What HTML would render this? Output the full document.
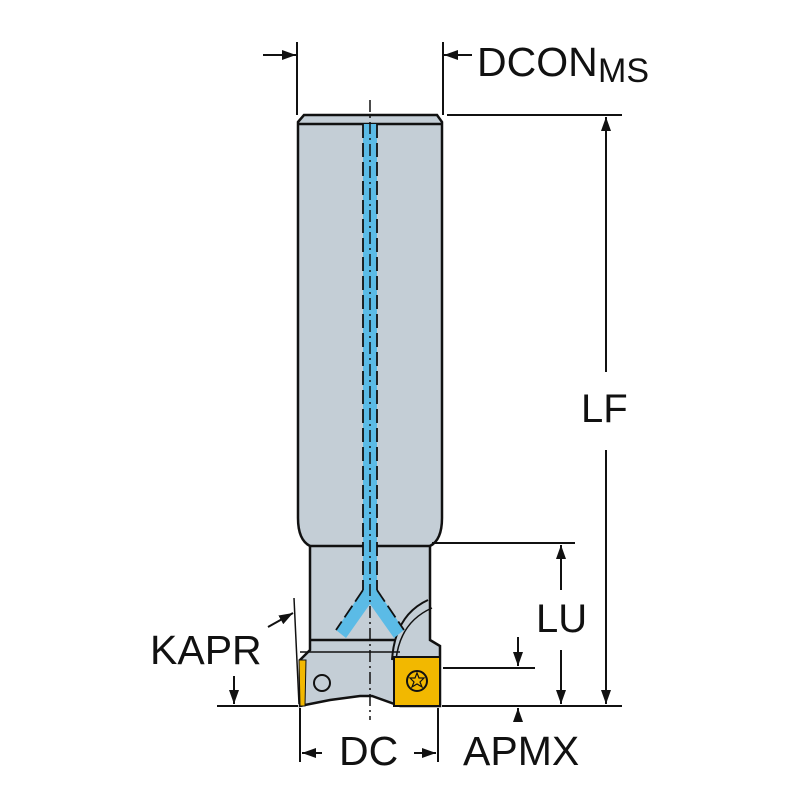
<!DOCTYPE html>
<html><head><style>body{margin:0;background:#fff}svg{display:block}text{font-family:"Liberation Sans",sans-serif;fill:#111}</style></head><body>
<svg width="800" height="800" viewBox="0 0 800 800" xmlns="http://www.w3.org/2000/svg">
<defs>
<marker id="b" viewBox="0 0 14 10" markerWidth="14" markerHeight="10" refX="14" refY="5" orient="auto" markerUnits="userSpaceOnUse"><path d="M0,0 L14,5 L0,10 Z" fill="#111"/></marker></defs>
<g stroke="#111" stroke-width="2.5" fill="none">
<path d="M298,122 L304,115 L437,115 L442,122 L442,518 Q442,540 430,546 L430,640 L440,646 L440,706 L400,706 L372,696 L360,696 L330,700 L300,706 L300,660 L310,650 L310,546 Q298,540 298,518 Z" fill="#c4ced6"/>
<line x1="298" y1="124" x2="442" y2="124"/>
<line x1="310" y1="546" x2="430" y2="546"/>
<line x1="310" y1="640" x2="395" y2="640"/>
<line x1="300" y1="652" x2="400" y2="652" stroke-width="1.5"/>
<path d="M428,600 Q395,615 392,660" stroke-width="2"/>
<path d="M432,608 Q400,622 396,660" stroke-width="1.5"/>
</g>
<g fill="#5bbbe6" stroke="none">
<rect x="363" y="124" width="14" height="470"/>
<path d="M363,590 L336,630 L346,638 L370,604 L394,638 L404,630 L377,590 Z"/>
</g>
<g stroke="#111" stroke-width="1.8" fill="none" stroke-dasharray="14,5">
<line x1="363" y1="124" x2="363" y2="590"/><line x1="377" y1="124" x2="377" y2="590"/>
<path d="M363,590 L336,630"/><path d="M377,590 L404,630"/>
</g>
<line x1="370" y1="100" x2="370" y2="720" stroke="#111" stroke-width="1.5" stroke-dasharray="12,4,2,4"/>
<rect x="394" y="657" width="46" height="49" fill="#f2b800" stroke="#111" stroke-width="2"/>
<circle cx="417" cy="681" r="10" fill="none" stroke="#111" stroke-width="2"/>
<path d="M417,673 L419,678 L424,678 L420,682 L422,687 L417,684 L412,687 L414,682 L410,678 L415,678 Z" fill="#f2b800" stroke="#111" stroke-width="1.2"/>
<path d="M299,660 L306,660 L305,706 L300,706 Z" fill="#f2b800" stroke="#111" stroke-width="1"/>
<circle cx="322" cy="683" r="8" fill="none" stroke="#111" stroke-width="2"/>
<g stroke="#111" stroke-width="2" fill="none">
<line x1="297" y1="42" x2="297" y2="115"/><line x1="443" y1="42" x2="443" y2="115"/>
<line x1="263" y1="55" x2="296" y2="55" marker-end="url(#b)"/>
<line x1="472" y1="55" x2="444" y2="55" marker-end="url(#b)"/>
<line x1="447" y1="115" x2="622" y2="115"/>
<line x1="217" y1="706" x2="298" y2="706"/><line x1="442" y1="706" x2="622" y2="706"/>
<line x1="606" y1="372" x2="606" y2="117" marker-end="url(#b)"/>
<line x1="606" y1="450" x2="606" y2="704" marker-end="url(#b)"/>
<line x1="432" y1="543" x2="575" y2="543"/>
<line x1="561" y1="590" x2="561" y2="545" marker-end="url(#b)"/>
<line x1="561" y1="650" x2="561" y2="704" marker-end="url(#b)"/>
<line x1="443" y1="668" x2="535" y2="668"/>
<line x1="518" y1="637" x2="518" y2="666" marker-end="url(#b)"/>
<line x1="518" y1="722" x2="518" y2="708" marker-end="url(#b)"/>
<line x1="300" y1="708" x2="300" y2="762"/><line x1="438" y1="708" x2="438" y2="762"/>
<line x1="322" y1="753" x2="302" y2="753" marker-end="url(#b)"/>
<line x1="414" y1="753" x2="436" y2="753" marker-end="url(#b)"/>
<line x1="294" y1="598" x2="299" y2="704" stroke-width="1.5"/>
<line x1="268" y1="627" x2="293" y2="613" marker-end="url(#b)"/>
<line x1="234" y1="676" x2="234" y2="704" marker-end="url(#b)"/>
</g>
<text x="477" y="76" font-size="41">DCON</text><text x="598" y="82" font-size="34">MS</text>
<text x="581" y="422" font-size="40">LF</text>
<text x="536" y="632" font-size="40">LU</text>
<text x="150" y="664" font-size="41">KAPR</text>
<text x="339" y="765" font-size="41">DC</text>
<text x="463" y="765" font-size="41">APMX</text>
</svg>
</body></html>
